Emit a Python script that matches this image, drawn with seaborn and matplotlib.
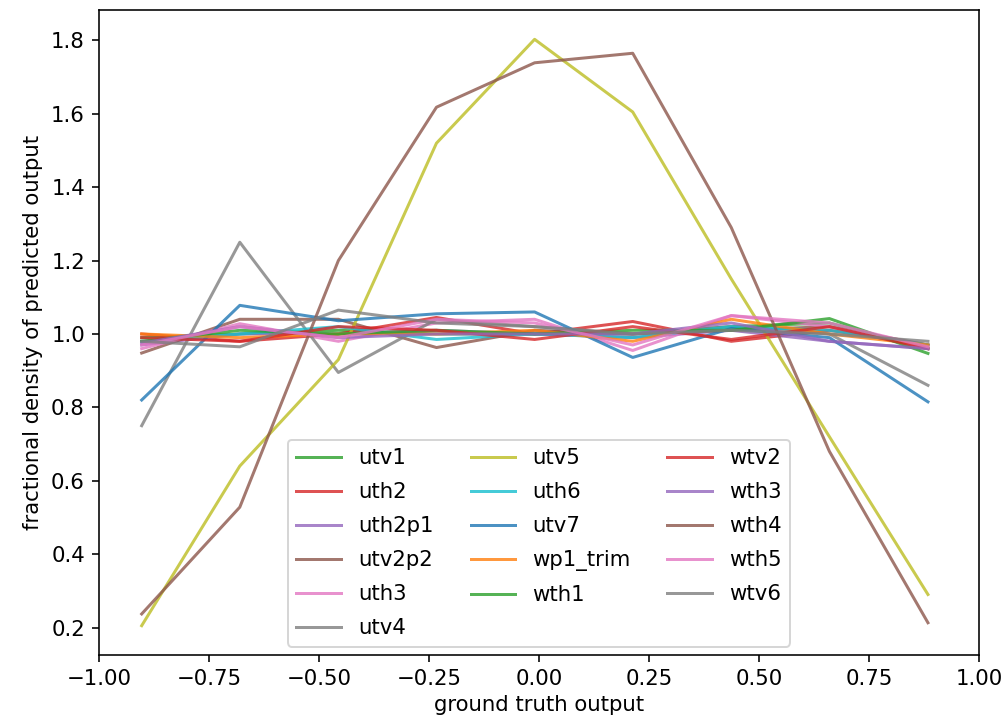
import numpy as np
import pandas as pd
import matplotlib
matplotlib.use("Agg")
import matplotlib.pyplot as plt
import seaborn as sns

# bin centres of ground truth output
x_vals = [-0.903, -0.680, -0.456, -0.233, -0.010, 0.213, 0.437, 0.660, 0.884]

series_names = ["utv1", "uth2", "uth2p1", "utv2p2", "uth3", "utv4", "utv5", "uth6",
                "utv7", "wp1_trim", "wth1", "wtv2", "wth3", "wth4", "wth5", "wtv6"]

utv1 = [0.99, 1.00, 1.01, 1.00, 1.00, 1.00, 1.02, 1.03, 0.96]
uth2 = [1.00, 0.98, 1.00, 1.045, 1.00, 1.034, 0.98, 1.01, 0.97]
uth2p1 = [0.97, 1.00, 1.00, 1.01, 1.00, 0.99, 1.01, 0.98, 0.96]
utv2p2 = [0.948, 1.04, 1.04, 0.963, 1.01, 1.00, 1.01, 1.02, 0.97]
uth3 = [0.96, 1.028, 0.98, 1.03, 1.04, 0.955, 1.05, 1.02, 0.96]
utv4 = [0.75, 1.25, 0.895, 1.04, 1.02, 1.00, 1.02, 1.00, 0.86]
utv5 = [0.205, 0.64, 0.93, 1.52, 1.803, 1.605, 1.15, 0.72, 0.29]
uth6 = [0.98, 1.00, 1.02, 0.985, 1.00, 0.99, 1.02, 1.01, 0.97]
utv7 = [0.82, 1.078, 1.036, 1.055, 1.06, 0.936, 1.015, 0.99, 0.815]
wp1_trim = [1.00, 0.99, 1.00, 1.00, 1.01, 0.98, 1.04, 1.00, 0.97]
wth1 = [0.98, 1.01, 1.00, 1.01, 1.00, 1.01, 1.01, 1.042, 0.947]
wtv2 = [0.99, 0.98, 1.02, 1.01, 0.985, 1.02, 0.985, 1.02, 0.96]
wth3 = [0.975, 1.02, 0.99, 1.00, 1.00, 1.00, 1.03, 0.98, 0.96]
wth4 = [0.237, 0.528, 1.20, 1.618, 1.739, 1.765, 1.29, 0.68, 0.213]
wth5 = [0.97, 1.02, 0.99, 1.04, 1.03, 0.97, 1.05, 1.03, 0.965]
wtv6 = [0.98, 0.965, 1.065, 1.03, 1.02, 1.00, 1.01, 1.00, 0.98]

series_values = [utv1, uth2, uth2p1, utv2p2, uth3, utv4, utv5, uth6,
                 utv7, wp1_trim, wth1, wtv2, wth3, wth4, wth5, wtv6]

tab = sns.color_palette("tab10")
color_idx = [2, 3, 4, 5, 6, 7, 8, 9, 0, 1, 2, 3, 4, 5, 6, 7]
palette = {n: tab[i] for n, i in zip(series_names, color_idx)}

rows = []
for name, vals in zip(series_names, series_values):
    for xv, yv in zip(x_vals, vals):
        rows.append({"x": xv, "y": yv, "series": name})
df = pd.DataFrame(rows)

plt.rcParams["font.size"] = 10.6
fig = plt.figure(figsize=(1007 / 144, 717 / 144), dpi=144)
ax = fig.add_axes([99 / 1007, 1 - 655 / 717, 880 / 1007, 645 / 717])

sns.lineplot(data=df, x="x", y="y", hue="series", hue_order=series_names,
             palette=palette, alpha=0.8, linewidth=1.5, ax=ax, sort=False)

ax.set_xlim(-1, 1)
ax.set_xlabel("ground truth output", labelpad=3)
ax.set_ylabel("fractional density of predicted output")
handles, labels = ax.get_legend_handles_labels()
ax.legend(handles, labels, ncol=3, loc="lower center", labelspacing=0.66,
          handlelength=2.1, borderaxespad=0.4, columnspacing=1.75)

fig.savefig("out.png", dpi=144)
